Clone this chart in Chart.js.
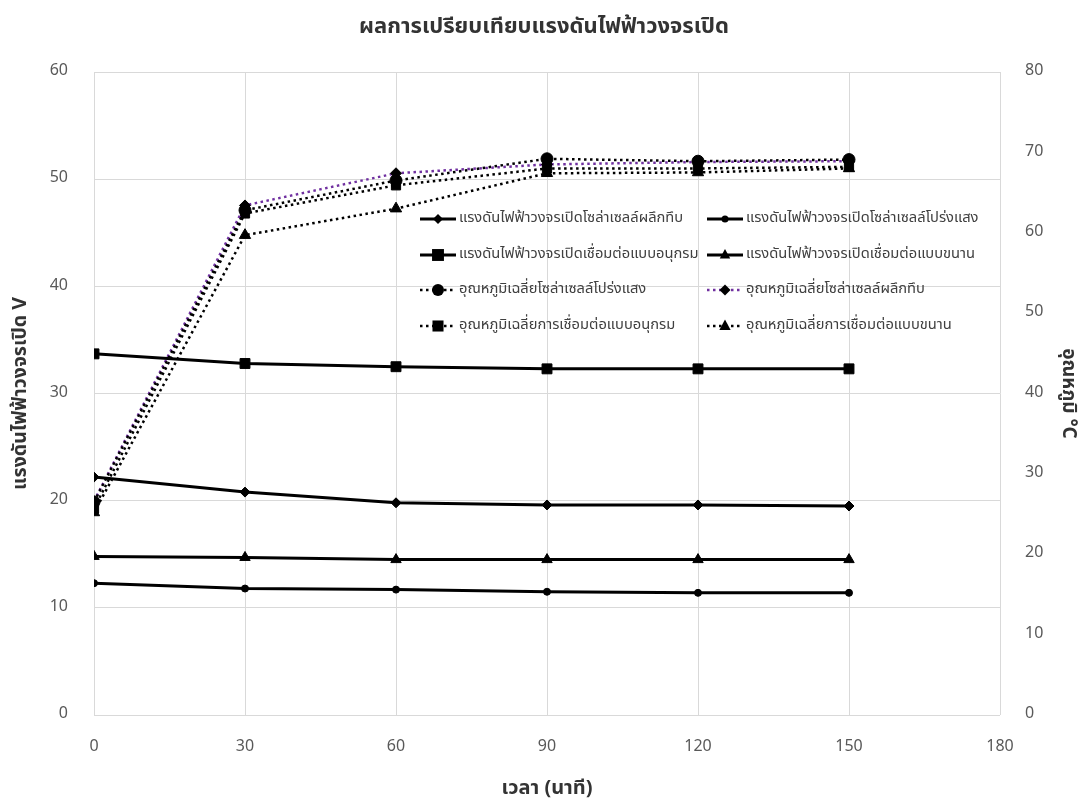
<html>
<head>
    <script src="https://cdn.jsdelivr.net/npm/chart.js"></script>
    <style>
        body { margin: 0; background: #fff; }
        #chartcontainer { position: relative; width: 1088px; height: 803px; }
    </style>
</head>
<body>
    <div id="chartcontainer">
        <canvas id="canvas" width="1088" height="803"></canvas>
    </div>
    <script>
        // time in minutes
        var minutes = [0, 30, 60, 90, 120, 150];

        // open circuit voltage (V), left axis
        var vCrystal = [22.2, 20.8, 19.8, 19.6, 19.6, 19.5];
        var vClear = [12.3, 11.8, 11.7, 11.5, 11.4, 11.4];
        var vSeries = [33.7, 32.8, 32.5, 32.3, 32.3, 32.3];
        var vParallel = [14.8, 14.7, 14.5, 14.5, 14.5, 14.5];

        // average temperature (°C), right axis
        var tClear = [26.5, 62.8, 66.5, 69.2, 68.9, 69.1];
        var tCrystal = [26.6, 63.4, 67.4, 68.5, 68.8, 68.9];
        var tSeries = [25.7, 62.4, 65.9, 68.0, 68.0, 68.2];
        var tParallel = [25.2, 59.7, 63.0, 67.4, 67.5, 68.0];

        var labels = [
            'แรงดันไฟฟ้าวงจรเปิดโซล่าเซลล์ผลึกทึบ',
            'แรงดันไฟฟ้าวงจรเปิดโซล่าเซลล์โปร่งแสง',
            'แรงดันไฟฟ้าวงจรเปิดเชื่อมต่อแบบอนุกรม',
            'แรงดันไฟฟ้าวงจรเปิดเชื่อมต่อแบบขนาน',
            'อุณหภูมิเฉลี่ยโซล่าเซลล์โปร่งแสง',
            'อุณหภูมิเฉลี่ยโซล่าเซลล์ผลึกทึบ',
            'อุณหภูมิเฉลี่ยการเชื่อมต่อแบบอนุกรม',
            'อุณหภูมิเฉลี่ยการเชื่อมต่อแบบขนาน'
        ];

        var FONT = '"Noto Sans Thai", Tahoma, "Noto Sans", sans-serif';
        var GRID = '#d9d9d9';
        var TICK = '#595959';

        function pts(values) {
            return values.map(function (v, i) { return { x: minutes[i], y: v }; });
        }

        function solid(label, values, style, radius) {
            return {
                label: label, data: pts(values), yAxisID: 'y',
                borderColor: '#000', backgroundColor: '#000', borderWidth: 3,
                pointStyle: style, pointRadius: radius, pointBorderWidth: 1,
                pointBorderColor: '#000', pointBackgroundColor: '#000'
            };
        }

        function dotted(label, values, style, radius, color) {
            return {
                label: label, data: pts(values), yAxisID: 'y1',
                borderColor: color, backgroundColor: '#000', borderWidth: 2.5,
                borderDash: [2.5, 3.5],
                pointStyle: style, pointRadius: radius, pointBorderWidth: 1,
                pointBorderColor: '#000', pointBackgroundColor: '#000'
            };
        }

        // legend drawn inside the plot, 2 columns x 4 rows
        function drawMarker(ctx, style, r, x, y) {
            ctx.beginPath();
            if (style === 'rect') {
                ctx.rect(x - r * 0.85, y - r * 0.85, r * 1.7, r * 1.7);
            } else if (style === 'rectRot') {
                ctx.moveTo(x, y - r); ctx.lineTo(x + r, y); ctx.lineTo(x, y + r); ctx.lineTo(x - r, y);
                ctx.closePath();
            } else if (style === 'triangle') {
                ctx.moveTo(x, y - r); ctx.lineTo(x + r * 0.87, y + r * 0.6); ctx.lineTo(x - r * 0.87, y + r * 0.6);
                ctx.closePath();
            } else {
                ctx.arc(x, y, r, 0, Math.PI * 2);
            }
            ctx.fillStyle = '#000';
            ctx.fill();
        }

        var insideLegend = {
            id: 'insideLegend',
            afterDraw: function (chart) {
                var ctx = chart.ctx;
                var colX = [420, 707];
                var rowY = [219, 255, 290, 326];
                ctx.save();
                chart.data.datasets.forEach(function (ds, i) {
                    var x = colX[i % 2];
                    var y = rowY[Math.floor(i / 2)];
                    ctx.save();
                    ctx.strokeStyle = ds.borderColor;
                    ctx.lineWidth = ds.borderWidth;
                    ctx.setLineDash(ds.borderDash || []);
                    ctx.beginPath();
                    ctx.moveTo(x, y);
                    ctx.lineTo(x + 36, y);
                    ctx.stroke();
                    ctx.restore();
                    drawMarker(ctx, ds.pointStyle, ds.pointRadius, x + 18, y);
                    ctx.fillStyle = '#404040';
                    ctx.font = '14.7px ' + FONT;
                    ctx.textBaseline = 'middle';
                    ctx.textAlign = 'left';
                    ctx.fillText(ds.label, x + 39, y);
                });
                ctx.restore();
            }
        };

        var ctx = document.getElementById('canvas').getContext('2d');

        var config = {
            type: 'line',
            data: {
                datasets: [
                    solid(labels[0], vCrystal, 'rectRot', 5),
                    solid(labels[1], vClear, 'circle', 3.5),
                    solid(labels[2], vSeries, 'rect', 7),
                    solid(labels[3], vParallel, 'triangle', 6),
                    dotted(labels[4], tClear, 'circle', 6, '#000'),
                    dotted(labels[5], tCrystal, 'rectRot', 5.5, '#7030a0'),
                    dotted(labels[6], tSeries, 'rect', 6.5, '#000'),
                    dotted(labels[7], tParallel, 'triangle', 6.5, '#000')
                ]
            },
            options: {
                responsive: false,
                animation: false,
                events: [],
                layout: { padding: 0 },
                plugins: {
                    legend: { display: false },
                    tooltip: { enabled: false },
                    title: {
                        display: true,
                        text: 'ผลการเปรียบเทียบแรงดันไฟฟ้าวงจรเปิด',
                        color: '#333',
                        font: { family: FONT, size: 22, weight: 'bold' },
                        padding: { top: 15, bottom: 30.6 }
                    }
                },
                scales: {
                    x: {
                        type: 'linear', min: 0, max: 180,
                        ticks: { stepSize: 30, color: TICK, font: { family: FONT, size: 16 }, padding: 23 },
                        grid: { color: GRID, drawTicks: false },
                        border: { display: false },
                        title: {
                            display: true, text: 'เวลา (นาที)', color: '#333',
                            font: { family: FONT, size: 20, weight: 'bold' },
                            padding: { top: 0, bottom: 1 }
                        },
                        afterFit: function (s) { s.height = 88; }
                    },
                    y: {
                        position: 'left', min: 0, max: 60,
                        ticks: { stepSize: 10, color: TICK, font: { family: FONT, size: 16 }, padding: 26 },
                        grid: { color: GRID, drawTicks: false },
                        border: { display: false },
                        title: {
                            display: true, text: 'แรงดันไฟฟ้าวงจรเปิด V', color: '#333',
                            font: { family: FONT, size: 19.5, weight: 'bold' },
                            padding: { top: 10, bottom: 0 }
                        },
                        afterFit: function (s) { s.width = 94; }
                    },
                    y1: {
                        position: 'right', min: 0, max: 80,
                        ticks: { stepSize: 10, color: TICK, font: { family: FONT, size: 16 }, padding: 25 },
                        grid: { display: false, drawTicks: false },
                        border: { display: false },
                        title: {
                            display: true, text: 'อุณหภูมิ °C', color: '#333',
                            font: { family: FONT, size: 19, weight: 'bold' },
                            padding: { top: 9.5, bottom: 0 }
                        },
                        afterFit: function (s) { s.width = 88; }
                    }
                }
            },
            plugins: [insideLegend]
        };

        var chart = new Chart(ctx, config);
    </script>
</body>
</html>
